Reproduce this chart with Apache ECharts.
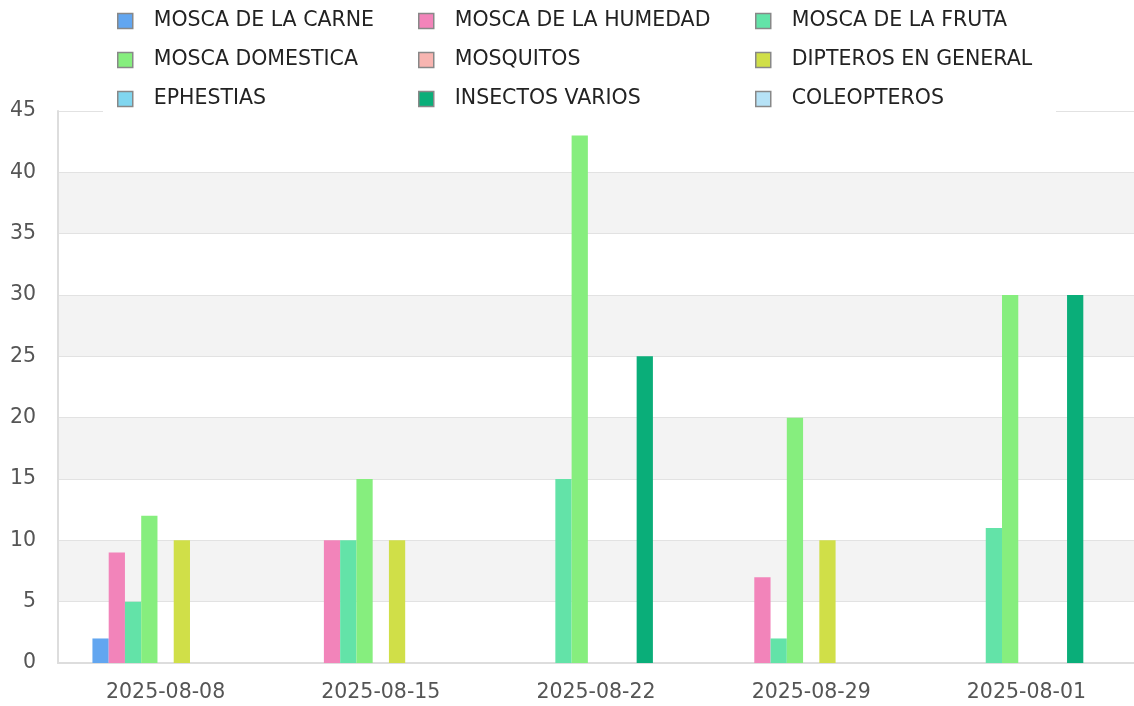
<!DOCTYPE html>
<html>
<head>
<meta charset="utf-8">
<script src="https://cdn.jsdelivr.net/npm/echarts@6/dist/echarts.min.js"></script>
<style>
  html, body { margin: 0; padding: 0; background: #fff; }
  #chart { width: 1134px; height: 706px; }
</style>
</head>
<body>
<div id="chart"></div>
<script>
// categorías (fechas)
const fechas = ['2025-08-08', '2025-08-15', '2025-08-22', '2025-08-29', '2025-08-01'];

// series: valores por fecha
const moscaCarne = [2, 0, 0, 0, 0];
const moscaHumedad = [9, 10, 0, 7, 0];
const moscaFruta = [5, 10, 15, 2, 11];
const moscaDomestica = [12, 15, 43, 20, 30];
const mosquitos = [0, 0, 0, 0, 0];
const dipteros = [10, 10, 0, 10, 0];
const ephestias = [0, 0, 0, 0, 0];
const insectosVarios = [0, 0, 25, 0, 30];
const coleopteros = [0, 0, 0, 0, 0];

const yTicks = { min: 0, max: 45, step: 5 };

const font = 'DejaVu Sans';
const fontSize = 20.5;

const series = [
  { name: 'MOSCA DE LA CARNE', data: moscaCarne, color: '#62a6f0' },
  { name: 'MOSCA DE LA HUMEDAD', data: moscaHumedad, color: '#f284ba' },
  { name: 'MOSCA DE LA FRUTA', data: moscaFruta, color: '#63e3a8' },
  { name: 'MOSCA DOMESTICA', data: moscaDomestica, color: '#86ee7e' },
  { name: 'MOSQUITOS', data: mosquitos, color: '#f8b5b1' },
  { name: 'DIPTEROS EN GENERAL', data: dipteros, color: '#d0df48' },
  { name: 'EPHESTIAS', data: ephestias, color: '#80d6ef' },
  { name: 'INSECTOS VARIOS', data: insectosVarios, color: '#0aae79' },
  { name: 'COLEOPTEROS', data: coleopteros, color: '#b6e2f6' },
];

// leyenda en tres columnas
function legendCol(left, names) {
  return {
    orient: 'vertical',
    left: left,
    top: 10,
    padding: 0,
    itemWidth: 15,
    itemHeight: 15,
    itemGap: 17,
    icon: 'rect',
    itemStyle: { borderColor: '#888', borderWidth: 1.5 },
    textStyle: {
      fontFamily: font,
      fontSize: fontSize,
      color: '#222',
      lineHeight: 22,
      padding: [0, 0, 0, 16],
    },
    data: names,
    selectedMode: false,
  };
}

const chart = echarts.init(document.getElementById('chart'));
chart.setOption({
  animation: false,
  color: series.map(s => s.color),
  grid: { left: 58, right: 0, top: 111, bottom: 43 },
  graphic: [{
    type: 'rect',
    z: 3,
    shape: { x: 103, y: 0, width: 953, height: 114 },
    style: { fill: '#fff' },
  }],
  legend: [
    legendCol(117, [series[0].name, series[3].name, series[6].name]),
    legendCol(418, [series[1].name, series[4].name, series[7].name]),
    legendCol(755, [series[2].name, series[5].name, series[8].name]),
  ],
  xAxis: {
    type: 'category',
    data: fechas,
    axisTick: { show: false },
    axisLine: { lineStyle: { color: '#ddd', width: 2 } },
    axisLabel: { fontFamily: font, fontSize: fontSize, color: '#555', margin: 19 },
  },
  yAxis: {
    type: 'value',
    min: yTicks.min,
    max: yTicks.max,
    interval: yTicks.step,
    axisLine: { show: true, lineStyle: { color: '#ddd', width: 2 } },
    axisLabel: { fontFamily: font, fontSize: fontSize, color: '#555', margin: 22 },
    splitLine: { lineStyle: { color: '#e2e2e2' } },
    splitArea: { show: true, areaStyle: { color: ['#fff', '#f3f3f3'] } },
  },
  series: series.map(s => ({
    name: s.name,
    type: 'bar',
    data: s.data,
    barGap: 0,
    barCategoryGap: '32%',
    itemStyle: { color: s.color },
  })),
});
</script>
</body>
</html>
